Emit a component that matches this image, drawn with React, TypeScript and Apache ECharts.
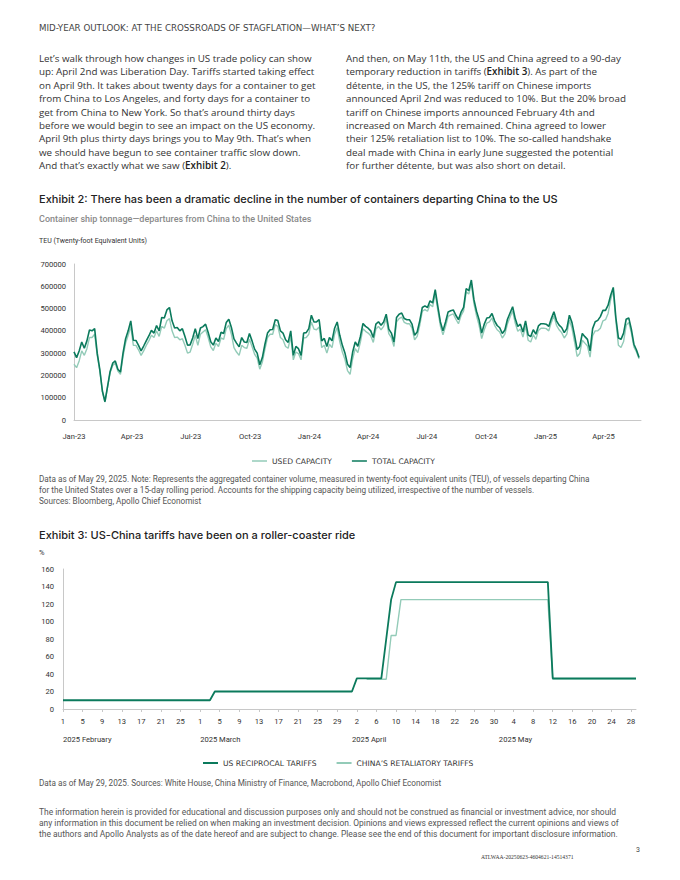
import React, { useEffect, useRef } from 'react';
import * as echarts from 'echarts';

const DARK = '#0B7A5C';
const LIGHT = '#93CBB8';
const AXIS_GRAY = '#c8c8c8';
const LABEL = '#333333';

// ---------- Exhibit 2: container ship tonnage (TEU), one reading every 4 days from 2023-01-01 ----------
const teuStart = '2023-01-01';
const teuEnd = '2025-05-29';
const teuStepDays = 4;
const totalCapacity = [
  306000, 280000, 310000, 350000, 322000, 355000, 404000, 400000, 410000, 300000,
  226000, 130000, 82000, 150000, 218000, 255000, 265000, 228000, 215000, 300000,
  365000, 400000, 445000, 358000, 357000, 335000, 310000, 332000, 355000, 377000,
  402000, 390000, 424000, 400000, 460000, 458000, 494000, 505000, 445000, 413000,
  415000, 400000, 410000, 375000, 336000, 337000, 368000, 410000, 365000, 413000,
  419000, 430000, 393000, 351000, 336000, 368000, 352000, 394000, 388000, 437000,
  452000, 415000, 364000, 345000, 328000, 370000, 350000, 348000, 388000, 355000,
  318000, 300000, 248000, 280000, 340000, 390000, 405000, 406000, 450000, 446000,
  400000, 390000, 360000, 348000, 400000, 290000, 330000, 320000, 290000, 390000,
  392000, 410000, 470000, 440000, 440000, 450000, 355000, 366000, 330000, 370000,
  355000, 412000, 440000, 380000, 335000, 301000, 250000, 235000, 305000, 350000,
  331000, 375000, 433000, 420000, 412000, 400000, 370000, 430000, 441000, 425000,
  440000, 475000, 408000, 390000, 350000, 460000, 475000, 480000, 455000, 450000,
  450000, 430000, 380000, 395000, 445000, 505000, 512000, 505000, 535000, 525000,
  585000, 510000, 440000, 400000, 440000, 485000, 490000, 494000, 470000, 450000,
  484000, 505000, 590000, 580000, 628000, 540000, 488000, 450000, 390000, 430000,
  458000, 460000, 478000, 445000, 424000, 414000, 388000, 404000, 452000, 480000,
  508000, 455000, 420000, 430000, 395000, 445000, 382000, 374000, 405000, 385000,
  422000, 432000, 432000, 430000, 420000, 455000, 486000, 445000, 426000, 415000,
  392000, 410000, 470000, 437000, 380000, 316000, 330000, 388000, 374000, 362000,
  310000, 410000, 441000, 447000, 464000, 492000, 492000, 515000, 560000, 595000,
  460000, 368000, 362000, 390000, 452000, 458000, 408000, 340000, 314000, 280000,
];
const usedCapacity = [
  250000, 235000, 265000, 310000, 290000, 320000, 370000, 370000, 385000, 290000,
  222000, 128000, 80000, 148000, 212000, 245000, 255000, 220000, 205000, 285000,
  345000, 380000, 420000, 335000, 335000, 315000, 290000, 310000, 335000, 355000,
  380000, 370000, 400000, 375000, 420000, 412000, 445000, 455000, 400000, 370000,
  372000, 360000, 365000, 335000, 300000, 305000, 340000, 380000, 335000, 385000,
  395000, 405000, 370000, 328000, 312000, 345000, 330000, 368000, 362000, 410000,
  425000, 385000, 325000, 305000, 290000, 335000, 325000, 322000, 362000, 330000,
  295000, 278000, 228000, 260000, 318000, 370000, 385000, 385000, 428000, 420000,
  370000, 360000, 330000, 322000, 375000, 270000, 305000, 298000, 270000, 368000,
  370000, 385000, 440000, 408000, 405000, 418000, 325000, 335000, 300000, 340000,
  325000, 385000, 415000, 352000, 305000, 272000, 222000, 205000, 275000, 320000,
  302000, 350000, 410000, 398000, 390000, 378000, 348000, 408000, 420000, 405000,
  420000, 455000, 388000, 370000, 330000, 440000, 455000, 462000, 438000, 432000,
  432000, 412000, 360000, 375000, 425000, 488000, 495000, 488000, 518000, 508000,
  568000, 492000, 422000, 382000, 420000, 465000, 472000, 476000, 452000, 432000,
  468000, 490000, 575000, 565000, 612000, 522000, 468000, 425000, 365000, 405000,
  435000, 440000, 458000, 425000, 405000, 395000, 368000, 385000, 432000, 462000,
  490000, 435000, 398000, 408000, 372000, 422000, 358000, 350000, 383000, 362000,
  402000, 412000, 412000, 410000, 400000, 438000, 468000, 425000, 405000, 392000,
  368000, 385000, 448000, 412000, 350000, 285000, 298000, 358000, 345000, 332000,
  282000, 378000, 400000, 400000, 412000, 445000, 450000, 478000, 540000, 580000,
  445000, 335000, 325000, 352000, 425000, 438000, 392000, 328000, 305000, 275000,
];
const teuTickDates = [
  '2023-01-01', '2023-04-01', '2023-07-01', '2023-10-01', '2024-01-01',
  '2024-04-01', '2024-07-01', '2024-10-01', '2025-01-01', '2025-04-01',
];
const teuTickLabels = [
  'Jan-23', 'Apr-23', 'Jul-23', 'Oct-23', 'Jan-24',
  'Apr-24', 'Jul-24', 'Oct-24', 'Jan-25', 'Apr-25',
];

// ---------- Exhibit 3: US-China tariffs (%), daily 2025-02-01 .. 2025-05-29 ----------
const tariffMonths = ['2025 February', '2025 March', '2025 April', '2025 May'];
const tariffMonthDays = [28, 31, 30, 29];
const usReciprocal = [
  // February
  10, 10, 10, 10, 10, 10, 10, 10, 10, 10, 10, 10, 10, 10, 10, 10, 10, 10, 10, 10, 10, 10, 10, 10, 10, 10, 10, 10,
  // March
  10, 10, 10, 20, 20, 20, 20, 20, 20, 20, 20, 20, 20, 20, 20, 20, 20, 20, 20, 20, 20, 20, 20, 20, 20, 20, 20, 20, 20, 20, 20,
  // April
  20, 35, 35, 35, 35, 35, 35, 80, 125, 145, 145, 145, 145, 145, 145, 145, 145, 145, 145, 145, 145, 145, 145, 145, 145, 145, 145, 145, 145, 145,
  // May
  145, 145, 145, 145, 145, 145, 145, 145, 145, 145, 145, 35, 35, 35, 35, 35, 35, 35, 35, 35, 35, 35, 35, 35, 35, 35, 35, 35, 35,
];
const chinaRetaliatory = [
  // February
  null, null, null, null, null, null, null, null, null, null, null, null, null, null,
  null, null, null, null, null, null, null, null, null, null, null, null, null, null,
  // March
  null, null, null, null, null, null, null, null, null, null, null, null, null, null, null, null,
  null, null, null, null, null, null, null, null, null, null, null, null, null, null, null,
  // April
  null, null, null, 34, 34, 34, 34, 34, 84, 84, 125, 125, 125, 125, 125, 125, 125, 125, 125, 125, 125, 125, 125, 125, 125, 125, 125, 125, 125, 125,
  // May
  125, 125, 125, 125, 125, 125, 125, 125, 125, 125, 125, 34, 34, 34, 34, 34, 34, 34, 34, 34, 34, 34, 34, 34, 34, 34, 34, 34, 34,
];

// ---------- Page text ----------
const headerText = 'MID-YEAR OUTLOOK: AT THE CROSSROADS OF STAGFLATION\u2014WHAT\u2019S NEXT?';
const leftColumn = [
  'Let\u2019s walk through how changes in US trade policy can show',
  'up: April 2nd was Liberation Day. Tariffs started taking effect',
  'on April 9th. It takes about twenty days for a container to get',
  'from China to Los Angeles, and forty days for a container to',
  'get from China to New York. So that\u2019s around thirty days',
  'before we would begin to see an impact on the US economy.',
  'April 9th plus thirty days brings you to May 9th. That\u2019s when',
  'we should have begun to see container traffic slow down.',
  'And that\u2019s exactly what we saw ({b|Exhibit 2}).',
];
const rightColumn = [
  'And then, on May 11th, the US and China agreed to a 90-day',
  'temporary reduction in tariffs ({b|Exhibit 3}). As part of the',
  'd\u00e9tente, in the US, the 125% tariff on Chinese imports',
  'announced April 2nd was reduced to 10%. But the 20% broad',
  'tariff on Chinese imports announced February 4th and',
  'increased on March 4th remained. China agreed to lower',
  'their 125% retaliation list to 10%. The so-called handshake',
  'deal made with China in early June suggested the potential',
  'for further d\u00e9tente, but was also short on detail.',
];
const exhibit2Title = 'Exhibit 2: There has been a dramatic decline in the number of containers departing China to the US';
const exhibit2Subtitle = 'Container ship tonnage\u2014departures from China to the United States';
const exhibit2Unit = 'TEU (Twenty-foot Equivalent Units)';
const exhibit2Notes = [
  'Data as of May 29, 2025. Note: Represents the aggregated container volume, measured in twenty-foot equivalent units (TEU), of vessels departing China',
  'for the United States over a 15-day rolling period. Accounts for the shipping capacity being utilized, irrespective of the number of vessels.',
  'Sources: Bloomberg, Apollo Chief Economist',
];
const exhibit3Title = 'Exhibit 3: US-China tariffs have been on a roller-coaster ride';
const exhibit3Unit = '%';
const exhibit3Notes = 'Data as of May 29, 2025. Sources: White House, China Ministry of Finance, Macrobond, Apollo Chief Economist';
const disclaimer = [
  'The information herein is provided for educational and discussion purposes only and should not be construed as financial or investment advice, nor should',
  'any information in this document be relied on when making an investment decision. Opinions and views expressed reflect the current opinions and views of',
  'the authors and Apollo Analysts as of the date hereof and are subject to change. Please see the end of this document for important disclosure information.',
];
const pageNumber = '3';
const docCode = 'ATLWAA-20250623-4604621-14514371';

const BODY_FONT = '9.8px "Open Sans", "Noto Sans", sans-serif';
const BODY_BOLD = '600 9.8px "Open Sans", "Noto Sans", sans-serif';
const TITLE_FONT = '500 11px Inter, Roboto, sans-serif';
const LEGEND_TEXT = { fontSize: 7.6, color: '#333', fontFamily: '"DejaVu Sans", sans-serif' };

function buildOption() {
  const DAY = 86400000;
  const t0 = Date.parse(teuStart);
  const dayOf = (d: string) => Math.round((Date.parse(d) - t0) / DAY);
  const totalData = totalCapacity.map((v, k) => [k * teuStepDays, v]);
  const usedData = usedCapacity.map((v, k) => [k * teuStepDays, v]);
  const tickDays = teuTickDates.map(dayOf);

  const dayLabels: string[] = [];
  const monthStartIdx: number[] = [];
  tariffMonthDays.forEach((n) => {
    monthStartIdx.push(dayLabels.length);
    for (let d = 1; d <= n; d++) dayLabels.push(String(d));
  });

  const text = (x: number, y: number, t: string, font: string, fill: string, extra: any = {}) => ({
    type: 'text',
    x,
    y,
    silent: true,
    style: { text: t, font, fill, verticalAlign: 'middle', align: 'left', ...extra },
  });
  const rich = { b: { font: BODY_BOLD, fill: '#222' } };

  const graphics: any[] = [];
  graphics.push(text(39, 28, headerText, '8.7px "DejaVu Sans", sans-serif', '#444'));
  leftColumn.forEach((l, i) => graphics.push(text(39, 58.5 + i * 13.4, l, BODY_FONT, '#333', { rich })));
  rightColumn.forEach((l, i) => graphics.push(text(346, 58.5 + i * 13.4, l, BODY_FONT, '#333', { rich })));
  graphics.push(text(39, 199, exhibit2Title, TITLE_FONT, '#222'));
  graphics.push(text(39, 219, exhibit2Subtitle, '500 9px Roboto, sans-serif', '#8a8a8a'));
  graphics.push(text(39, 241, exhibit2Unit, '7px Roboto, sans-serif', '#333'));
  exhibit2Notes.forEach((l, i) =>
    graphics.push(text(39, 479 + i * 10.8, l, '8.2px Roboto, sans-serif', '#555'))
  );
  graphics.push(text(39, 535, exhibit3Title, TITLE_FONT, '#222'));
  graphics.push(text(39, 552, exhibit3Unit, '7.5px Roboto, sans-serif', '#333'));
  graphics.push(text(39, 783, exhibit3Notes, '8.2px Roboto, sans-serif', '#555'));
  disclaimer.forEach((l, i) =>
    graphics.push(text(39, 812 + i * 11.2, l, '8.45px Roboto, sans-serif', '#555'))
  );
  graphics.push(text(636, 850, pageNumber, '7px Roboto, sans-serif', '#444'));
  graphics.push(text(481, 857, docCode, '5.6px "Liberation Serif", serif', '#333'));

  const axisLabel = { fontSize: 7.6, color: LABEL, fontFamily: 'Roboto, sans-serif' };

  return {
    animation: false,
    backgroundColor: '#ffffff',
    textStyle: { fontFamily: 'Roboto, sans-serif' },
    grid: [
      { left: 74, right: 39, top: 264, height: 156 },
      { left: 63, right: 44, top: 569, height: 140 },
    ],
    xAxis: [
      {
        type: 'value',
        gridIndex: 0,
        min: 0,
        max: dayOf(teuEnd),
        axisLine: { show: true, onZero: false, lineStyle: { color: AXIS_GRAY, width: 1 } },
        axisTick: { show: false },
        splitLine: { show: false },
        axisLabel: {
          ...axisLabel,
          margin: 12,
          customValues: tickDays,
          formatter: (v: number) => {
            let best = 0;
            tickDays.forEach((t, i) => {
              if (Math.abs(t - v) < Math.abs(tickDays[best] - v)) best = i;
            });
            return teuTickLabels[best];
          },
        },
      },
      {
        type: 'category',
        gridIndex: 1,
        data: dayLabels,
        boundaryGap: false,
        axisLine: { show: true, lineStyle: { color: AXIS_GRAY, width: 1 } },
        axisTick: { show: true, interval: 3, length: 3, lineStyle: { color: AXIS_GRAY } },
        splitLine: { show: false },
        axisLabel: { ...axisLabel, interval: 3, margin: 8 },
      },
      {
        type: 'category',
        gridIndex: 1,
        data: dayLabels,
        boundaryGap: false,
        position: 'bottom',
        offset: 18,
        axisLine: { show: false },
        axisTick: { show: false },
        splitLine: { show: false },
        axisLabel: {
          ...axisLabel,
          margin: 8,
          align: 'left',
          interval: (i: number) => monthStartIdx.indexOf(i) >= 0,
          formatter: (_v: string, i: number) => tariffMonths[monthStartIdx.indexOf(i)] || '',
        },
      },
    ],
    yAxis: [
      {
        type: 'value',
        gridIndex: 0,
        min: 0,
        max: 700000,
        interval: 100000,
        axisLine: { show: true, lineStyle: { color: AXIS_GRAY, width: 1 } },
        axisTick: { show: false },
        splitLine: { show: false },
        axisLabel: { ...axisLabel, margin: 8, formatter: (v: number) => String(v) },
      },
      {
        type: 'value',
        gridIndex: 1,
        min: 0,
        max: 160,
        interval: 20,
        axisLine: { show: true, lineStyle: { color: AXIS_GRAY, width: 1 } },
        axisTick: { show: false },
        splitLine: { show: false },
        axisLabel: { ...axisLabel, margin: 9 },
      },
    ],
    legend: [
      {
        data: ['USED CAPACITY', 'TOTAL CAPACITY'],
        left: 247,
        top: 452,
        icon: 'rect',
        itemWidth: 15,
        itemHeight: 1.5,
        itemGap: 20,
        selectedMode: false,
        textStyle: LEGEND_TEXT,
      },
      {
        data: ['US RECIPROCAL TARIFFS', 'CHINA\u2019S RETALIATORY TARIFFS'],
        left: 198,
        top: 754,
        icon: 'rect',
        itemWidth: 15,
        itemHeight: 2,
        itemGap: 20,
        selectedMode: false,
        textStyle: LEGEND_TEXT,
      },
    ],
    graphic: graphics,
    series: [
      {
        name: 'USED CAPACITY',
        type: 'line',
        xAxisIndex: 0,
        yAxisIndex: 0,
        data: usedData,
        symbol: 'none',
        color: LIGHT,
        lineStyle: { color: LIGHT, width: 1.4 },
        z: 2,
      },
      {
        name: 'TOTAL CAPACITY',
        type: 'line',
        xAxisIndex: 0,
        yAxisIndex: 0,
        data: totalData,
        symbol: 'none',
        color: DARK,
        lineStyle: { color: DARK, width: 1.6 },
        z: 3,
      },
      {
        name: 'CHINA\u2019S RETALIATORY TARIFFS',
        type: 'line',
        xAxisIndex: 1,
        yAxisIndex: 1,
        data: chinaRetaliatory,
        symbol: 'none',
        connectNulls: false,
        color: LIGHT,
        lineStyle: { color: LIGHT, width: 1.4 },
        z: 2,
      },
      {
        name: 'US RECIPROCAL TARIFFS',
        type: 'line',
        xAxisIndex: 1,
        yAxisIndex: 1,
        data: usReciprocal,
        symbol: 'none',
        color: DARK,
        lineStyle: { color: DARK, width: 1.8 },
        z: 3,
      },
    ],
  };
}

export default function App() {
  const ref = useRef<HTMLDivElement>(null);
  useEffect(() => {
    if (!ref.current) return;
    const chart = echarts.init(ref.current, undefined, { renderer: 'svg' });
    chart.setOption(buildOption() as any);
    return () => chart.dispose();
  }, []);
  return (
    <div
      ref={ref}
      style={{ position: 'absolute', left: 0, top: 0, width: 680, height: 880, background: '#fff' }}
    />
  );
}
